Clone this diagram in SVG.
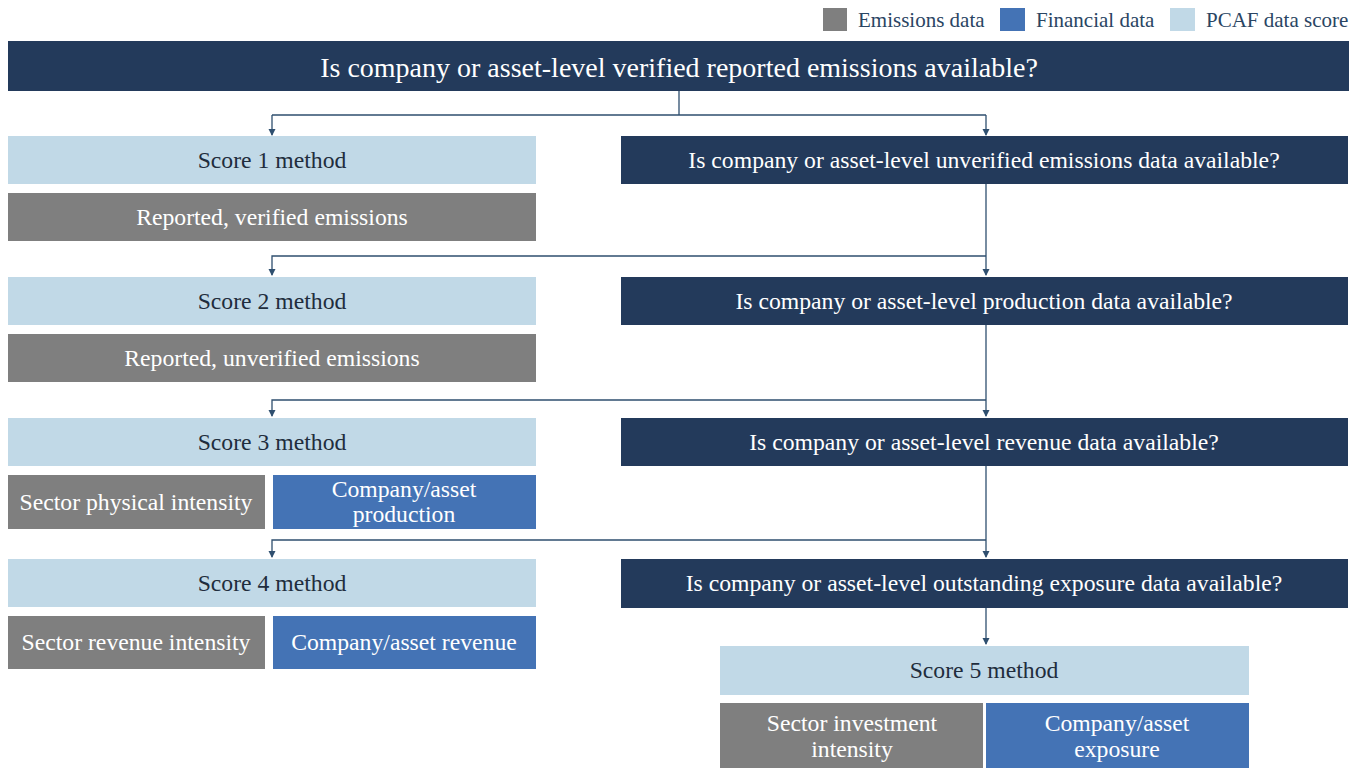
<svg xmlns="http://www.w3.org/2000/svg" width="1361" height="768" viewBox="0 0 1361 768">
<style>
text{font-family:"Liberation Serif","Times New Roman",serif;text-anchor:middle;dominant-baseline:central}
.q rect{fill:#233a5b}.q text{fill:#ffffff;font-size:23.7px}
.s rect{fill:#c1d9e7}.s text{fill:#1f2d3d;font-size:23.7px}
.e rect{fill:#7f7f7f}.e text{fill:#ffffff;font-size:23.7px}
.f rect{fill:#4473b5}.f text{fill:#ffffff;font-size:23.7px}
.lg text{fill:#2a4563;font-size:21px;text-anchor:start}
.c path{fill:none;stroke:#2f4f6f;stroke-width:1.3}
</style>
<defs>
<marker id="ah" markerWidth="8" markerHeight="8" refX="6" refY="4" orient="auto" markerUnits="userSpaceOnUse">
<path d="M0,0.5 L7,4 L0,7.5 Z" fill="#2f4f6f"/>
</marker>
</defs>
<rect width="1361" height="768" fill="#ffffff"/>
<g id="legend" class="lg">
<rect x="823" y="8" width="24" height="23" fill="#7f7f7f"/>
<text x="858" y="20">Emissions data</text>
<rect x="1000" y="8" width="25" height="23" fill="#4473b5"/>
<text x="1036" y="20">Financial data</text>
<rect x="1170" y="8" width="25" height="23" fill="#c1d9e7"/>
<text x="1206" y="20">PCAF data score</text>
</g>
<g class="c" id="connectors">
<path d="M679,91 V115 M272,115 H986"/>
<path d="M272,115 V135" marker-end="url(#ah)"/>
<path d="M986,115 V135" marker-end="url(#ah)"/>
<path d="M986,184 V275" marker-end="url(#ah)"/>
<path d="M986,256 H272 V275" marker-end="url(#ah)"/>
<path d="M986,325 V416" marker-end="url(#ah)"/>
<path d="M986,400 H272 V416" marker-end="url(#ah)"/>
<path d="M986,466 V557" marker-end="url(#ah)"/>
<path d="M986,540 H272 V557" marker-end="url(#ah)"/>
<path d="M986,608 V644" marker-end="url(#ah)"/>
</g>
<g id="q0" class="q"><rect x="8" y="41" width="1341" height="50"/><text x="679" y="67" style="font-size:28px">Is company or asset-level verified reported emissions available?</text></g>
<g id="q1" class="q"><rect x="621" y="136" width="727" height="48"/><text x="984" y="160">Is company or asset-level unverified emissions data available?</text></g>
<g id="q2" class="q"><rect x="621" y="277" width="727" height="48"/><text x="984" y="301">Is company or asset-level production data available?</text></g>
<g id="q3" class="q"><rect x="621" y="418" width="727" height="48"/><text x="984" y="442">Is company or asset-level revenue data available?</text></g>
<g id="q4" class="q"><rect x="621" y="559" width="727" height="49"/><text x="984" y="583">Is company or asset-level outstanding exposure data available?</text></g>
<g id="s1" class="s"><rect x="8" y="136" width="528" height="48"/><text x="272" y="160">Score 1 method</text></g>
<g id="e1" class="e"><rect x="8" y="193" width="528" height="48"/><text x="272" y="217">Reported, verified emissions</text></g>
<g id="s2" class="s"><rect x="8" y="277" width="528" height="48"/><text x="272" y="301">Score 2 method</text></g>
<g id="e2" class="e"><rect x="8" y="334" width="528" height="48"/><text x="272" y="358">Reported, unverified emissions</text></g>
<g id="s3" class="s"><rect x="8" y="418" width="528" height="48"/><text x="272" y="442">Score 3 method</text></g>
<g id="e3" class="e"><rect x="8" y="475" width="257" height="54"/><text x="136" y="502">Sector physical intensity</text></g>
<g id="f3" class="f"><rect x="273" y="475" width="263" height="54"/><text x="404" y="489">Company/asset</text><text x="404" y="514">production</text></g>
<g id="s4" class="s"><rect x="8" y="559" width="528" height="48"/><text x="272" y="583">Score 4 method</text></g>
<g id="e4" class="e"><rect x="8" y="616" width="257" height="53"/><text x="136" y="642">Sector revenue intensity</text></g>
<g id="f4" class="f"><rect x="273" y="616" width="263" height="53"/><text x="404" y="642">Company/asset revenue</text></g>
<g id="s5" class="s"><rect x="720" y="646" width="529" height="49"/><text x="984" y="670">Score 5 method</text></g>
<g id="e5" class="e"><rect x="720" y="703" width="263" height="65"/><text x="852" y="723">Sector investment</text><text x="852" y="749">intensity</text></g>
<g id="f5" class="f"><rect x="986" y="703" width="263" height="65"/><text x="1117" y="723">Company/asset</text><text x="1117" y="749">exposure</text></g>
</svg>
